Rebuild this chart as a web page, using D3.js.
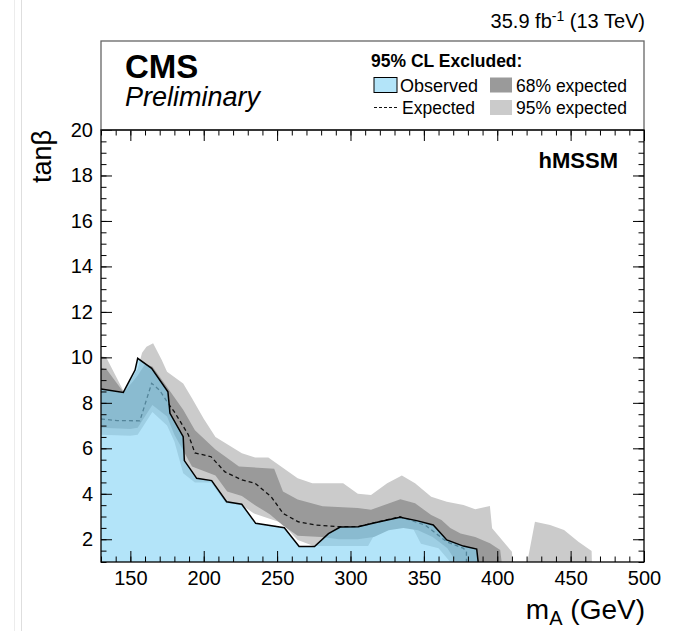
<!DOCTYPE html>
<html>
<head>
<meta charset="utf-8">
<script src="https://cdn.jsdelivr.net/npm/d3@7/dist/d3.min.js"></script>
<style>
  html, body { margin: 0; padding: 0; background: #fff; }
  svg { display: block; font-family: "Liberation Sans", Arial, Helvetica, sans-serif; }
</style>
</head>
<body>
<svg id="chart" width="689" height="631"></svg>
<script>
// ---- Exclusion contours in the (mA, tanβ) plane ----
// Observed exclusion boundary
const obsMass = [130, 145.2, 153.2, 155, 164.5, 175.6, 177, 186, 186.8, 195.2, 205.4, 215.6, 225.9, 235.4, 254.9, 265, 275.5, 285, 293, 305.3, 316.7, 333.7, 345.1, 356.4, 365.6, 376.9, 386, 387];
const obsTanb = [8.61, 8.46, 9.44, 9.96, 9.52, 8.49, 7.54, 6.51, 5.46, 4.68, 4.58, 3.65, 3.54, 2.70, 2.51, 1.68, 1.68, 2.25, 2.54, 2.55, 2.73, 2.97, 2.82, 2.63, 1.97, 1.70, 1.57, 1.0];

// Median expected boundary
const expMass = [130, 141, 156.5, 164.5, 170, 176, 180, 189.5, 194, 205, 214.5, 226, 235, 246, 254, 264.4, 276, 293, 305, 316.7, 333.7, 350.7, 365.6, 377, 379, 379];
const expTanb = [7.29, 7.22, 7.21, 8.86, 8.55, 7.95, 7.6, 6.6, 5.8, 5.63, 4.96, 4.61, 4.46, 3.87, 3.14, 2.77, 2.63, 2.55, 2.55, 2.73, 2.99, 2.63, 1.89, 1.60, 1.45, 1.0];

// ±2σ expected band: upper and lower edges
const band95UpperMass = [130, 133.5, 145.5, 155, 158, 161, 165.5, 171.4, 175, 186, 192, 200, 208, 226, 235, 244, 264, 274, 284, 295, 305, 314, 325, 335, 344, 355, 365.6, 377, 385, 395, 396.5, 410, 410.5];
const band95UpperTanb = [10.05, 10.0, 8.5, 9.5, 10.2, 10.47, 10.62, 9.88, 9.37, 8.85, 8.2, 7.3, 6.5, 5.78, 5.6, 5.6, 4.68, 4.46, 4.46, 4.46, 4.0, 3.95, 4.46, 4.80, 4.46, 3.87, 3.65, 3.51, 3.32, 3.46, 2.48, 1.45, 1.0];
const band95LowerMass = [130, 150, 155, 165, 175, 180, 186, 194, 205, 215, 226, 234, 253, 264, 275, 312, 318, 325, 342, 348, 360, 368, 410.5];
const band95LowerTanb = [6.6, 6.55, 6.6, 7.6, 7.0, 6.3, 4.9, 4.5, 4.5, 3.6, 3.5, 3.14, 2.73, 1.97, 1.7, 1.7, 2.4, 2.55, 2.55, 1.8, 1.6, 1.0, 1.0];
// separate ±2σ island at higher mA
const band95IslandMass = [420.5, 425.7, 436, 445.5, 455.3, 464.3, 464.5];
const band95IslandTanb = [1.0, 2.77, 2.63, 2.41, 1.89, 1.48, 1.0];

// ±1σ expected band: upper and lower edges
const band68UpperMass = [130, 134, 145.5, 155, 160, 165, 175, 186, 194, 208, 224, 248, 254, 264, 281, 305, 314, 325, 334, 344, 355, 362, 368, 375, 385, 395, 402, 403];
const band68UpperTanb = [9.55, 9.45, 8.45, 9.2, 9.7, 9.6, 8.7, 7.7, 6.8, 5.95, 5.2, 5.1, 4.1, 3.75, 3.45, 3.38, 3.3, 3.55, 3.76, 3.58, 3.07, 2.85, 2.5, 2.25, 2.1, 1.82, 1.53, 1.0];
const band68LowerMass = [130, 150, 155, 165, 175, 180, 186, 192, 200, 208, 216, 226, 235, 245, 254, 264, 280, 292, 305, 316, 326, 336, 346, 356, 366, 372, 403];
const band68LowerTanb = [6.9, 6.85, 6.9, 7.9, 7.4, 6.6, 5.9, 5.2, 5.0, 4.8, 4.1, 3.9, 3.5, 3.1, 2.6, 2.15, 2.1, 2.0, 2.0, 2.1, 2.4, 2.5, 2.4, 2.1, 1.6, 1.0, 1.0];

// Axis ticks
const massMajorTicks = [150, 200, 250, 300, 350, 400, 450, 500];
const massMinorTicks = d3.range(130, 501, 10);
const tanbMajorTicks = [2, 4, 6, 8, 10, 12, 14, 16, 18, 20];
const tanbMinorTicks = d3.range(1, 20.01, 0.5);

// ---- Layout ----
const svg = d3.select("#chart");
const frameLeft = 101, frameRight = 644, frameTop = 130, frameBottom = 562, headerTop = 41;
const x = d3.scaleLinear().domain([130, 500]).range([frameLeft, frameRight]);
const y = d3.scaleLinear().domain([1, 20]).range([frameBottom, frameTop]);

// faint vertical rules at the page's left border
svg.append("line").attr("x1", 14.5).attr("x2", 14.5).attr("y1", 0).attr("y2", 631).attr("stroke", "#ececec").attr("stroke-width", 1);
svg.append("line").attr("x1", 21.5).attr("x2", 21.5).attr("y1", 0).attr("y2", 631).attr("stroke", "#dedede").attr("stroke-width", 1);

svg.append("clipPath").attr("id", "plotClip")
  .append("rect").attr("x", frameLeft).attr("y", frameTop).attr("width", frameRight - frameLeft).attr("height", frameBottom - frameTop);

const plot = svg.append("g").attr("clip-path", "url(#plotClip)");

const zip = (ms, ts) => ms.map((m, i) => [m, ts[i]]);
const line = d3.line().x(d => x(d[0])).y(d => y(d[1]));

function bandPolygon(upM, upT, loM, loT) {
  const up = zip(upM, upT);
  const lo = zip(loM, loT).reverse();
  return line(up.concat(lo)) + "Z";
}

const col95 = "#cbcbcb", col68 = "#9a9a9a", colObs = "rgba(128,210,245,0.6)";

plot.append("path")
  .attr("d", bandPolygon(band95UpperMass, band95UpperTanb, band95LowerMass, band95LowerTanb))
  .attr("fill", col95);
plot.append("path")
  .attr("d", line(zip(band95IslandMass, band95IslandTanb)) + "Z")
  .attr("fill", col95);
plot.append("path")
  .attr("d", bandPolygon(band68UpperMass, band68UpperTanb, band68LowerMass, band68LowerTanb))
  .attr("fill", col68);

// expected median (dashed)
plot.append("path")
  .attr("d", line(zip(expMass, expTanb)))
  .attr("fill", "none").attr("stroke", "#111").attr("stroke-width", 1.3)
  .attr("stroke-dasharray", "4,3");

// observed excluded region
const obsPts = zip(obsMass, obsTanb);
plot.append("path")
  .attr("d", line(obsPts.concat([[obsMass[obsMass.length - 1], 1], [130, 1]])) + "Z")
  .attr("fill", colObs);
plot.append("path")
  .attr("d", line(obsPts))
  .attr("fill", "none").attr("stroke", "#000").attr("stroke-width", 1.5);

// ---- Axes (ticks on all four sides, pointing inward) ----
const font = "20px";
const gB = svg.append("g").attr("transform", `translate(0,${frameBottom})`)
  .call(d3.axisBottom(x).tickValues(massMajorTicks).tickSizeInner(-11).tickSizeOuter(0).tickPadding(9).tickFormat(d3.format("d")));
const gBm = svg.append("g").attr("transform", `translate(0,${frameBottom})`)
  .call(d3.axisBottom(x).tickValues(massMinorTicks).tickSizeInner(-5.5).tickSizeOuter(0).tickFormat(""));
const gT = svg.append("g").attr("transform", `translate(0,${frameTop})`)
  .call(d3.axisTop(x).tickValues(massMajorTicks).tickSizeInner(-11).tickSizeOuter(0).tickFormat(""));
const gTm = svg.append("g").attr("transform", `translate(0,${frameTop})`)
  .call(d3.axisTop(x).tickValues(massMinorTicks).tickSizeInner(-5.5).tickSizeOuter(0).tickFormat(""));
const gL = svg.append("g").attr("transform", `translate(${frameLeft},0)`)
  .call(d3.axisLeft(y).tickValues(tanbMajorTicks).tickSizeInner(-11).tickSizeOuter(0).tickPadding(8).tickFormat(d3.format("d")));
const gLm = svg.append("g").attr("transform", `translate(${frameLeft},0)`)
  .call(d3.axisLeft(y).tickValues(tanbMinorTicks).tickSizeInner(-5.5).tickSizeOuter(0).tickFormat(""));
const gR = svg.append("g").attr("transform", `translate(${frameRight},0)`)
  .call(d3.axisRight(y).tickValues(tanbMajorTicks).tickSizeInner(-11).tickSizeOuter(0).tickFormat(""));
const gRm = svg.append("g").attr("transform", `translate(${frameRight},0)`)
  .call(d3.axisRight(y).tickValues(tanbMinorTicks).tickSizeInner(-5.5).tickSizeOuter(0).tickFormat(""));

[gB, gBm, gT, gTm, gL, gLm, gR, gRm].forEach(g => {
  g.select(".domain").remove();
  g.selectAll(".tick line").attr("stroke", "#000").attr("stroke-width", 1);
  g.selectAll(".tick text").attr("font-size", font).attr("fill", "#000")
    .attr("font-family", "Liberation Sans, Arial, sans-serif");
});

// header box and plot frame
svg.append("rect").attr("x", frameLeft).attr("y", headerTop).attr("width", frameRight - frameLeft).attr("height", frameTop - headerTop)
  .attr("fill", "none").attr("stroke", "#666").attr("stroke-width", 1.3);
svg.append("rect").attr("x", frameLeft).attr("y", frameTop).attr("width", frameRight - frameLeft).attr("height", frameBottom - frameTop)
  .attr("fill", "none").attr("stroke", "#000").attr("stroke-width", 1.3);

// ---- Text ----
const title = svg.append("text").attr("x", 645).attr("y", 28).attr("text-anchor", "end")
  .attr("font-size", "20px").attr("fill", "#000");
title.append("tspan").text("35.9 fb");
title.append("tspan").attr("dy", -7).attr("font-size", "14px").text("-1");
title.append("tspan").attr("dy", 7).text(" (13 TeV)");

svg.append("text").attr("x", 125).attr("y", 78).attr("font-size", "33px").attr("font-weight", "bold").text("CMS");
svg.append("text").attr("x", 125).attr("y", 106).attr("font-size", "27px").attr("font-style", "italic").text("Preliminary");

svg.append("text").attr("x", 371).attr("y", 67).attr("font-size", "17.5px").attr("font-weight", "bold").text("95% CL Excluded:");

// legend entries
svg.append("rect").attr("x", 374).attr("y", 77.5).attr("width", 23).attr("height", 15)
  .attr("fill", colObs).attr("stroke", "#000").attr("stroke-width", 1);
svg.append("text").attr("x", 400).attr("y", 91.5).attr("font-size", "18px").text("Observed");
svg.append("rect").attr("x", 490).attr("y", 77.5).attr("width", 22).attr("height", 15).attr("fill", col68);
svg.append("text").attr("x", 516).attr("y", 91.5).attr("font-size", "17.5px").text("68% expected");

svg.append("line").attr("x1", 374).attr("x2", 398).attr("y1", 107.5).attr("y2", 107.5)
  .attr("stroke", "#111").attr("stroke-width", 1.2).attr("stroke-dasharray", "3,2");
svg.append("text").attr("x", 402).attr("y", 113.5).attr("font-size", "17.5px").text("Expected");
svg.append("rect").attr("x", 490).attr("y", 100).attr("width", 22).attr("height", 15).attr("fill", col95);
svg.append("text").attr("x", 516).attr("y", 113.5).attr("font-size", "17.5px").text("95% expected");

svg.append("text").attr("x", 618).attr("y", 168).attr("text-anchor", "end")
  .attr("font-size", "22px").attr("font-weight", "bold").text("hMSSM");

// axis titles
svg.append("text").attr("transform", "translate(51,130) rotate(-90)").attr("text-anchor", "end")
  .attr("font-size", "27px").text("tanβ");

const xTitle = svg.append("text").attr("x", 645).attr("y", 619).attr("text-anchor", "end").attr("font-size", "28px");
xTitle.append("tspan").text("m");
xTitle.append("tspan").attr("dy", 6).attr("font-size", "20px").text("A");
xTitle.append("tspan").attr("dy", -6).text(" (GeV)");
</script>
</body>
</html>
